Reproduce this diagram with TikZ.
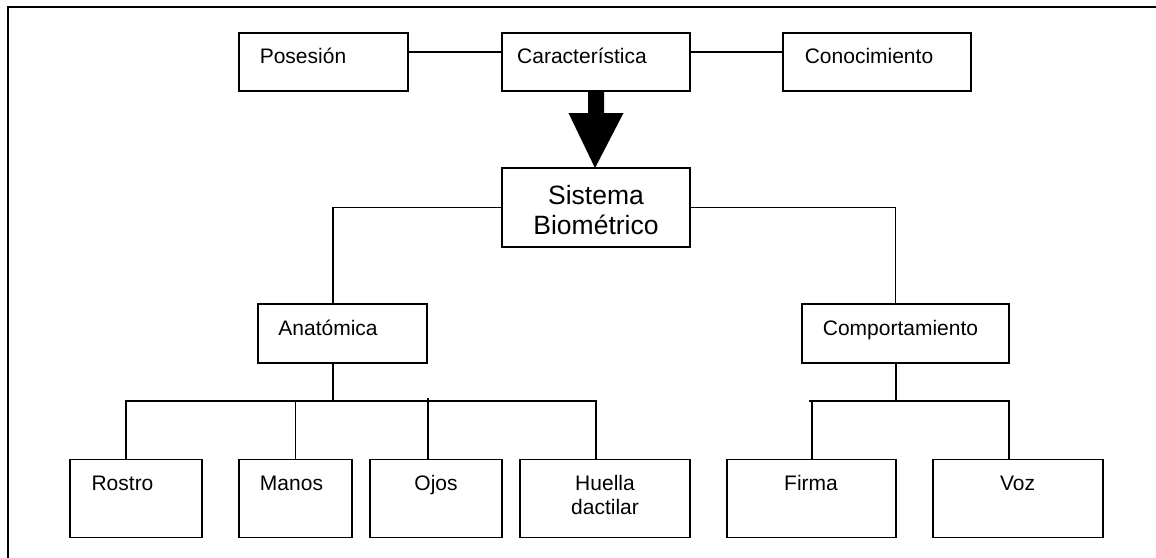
\documentclass[tikz,border=0pt]{standalone}
\usepackage{fontspec}
\setmainfont{Liberation Sans}
\begin{document}
\begin{tikzpicture}[x=1pt,y=-1pt,
  box/.style={draw,line width=1.9pt,inner sep=0pt,outer sep=0pt,minimum height=58pt},
  txt/.style={anchor=base,inner sep=0pt,font=\fontsize{21}{24}\selectfont},
  bigtxt/.style={anchor=base,inner sep=0pt,font=\fontsize{26.5}{30}\selectfont},
  conn/.style={line width=1.9pt},
  frame/.style={line width=2pt}]
\useasboundingbox (0,0) rectangle (1156,557);
% outer frame (top and left only)
\coordinate (fr1) at (1160,7);
\coordinate (fr2) at (8,7);
\coordinate (fr3) at (8,560);
\draw[frame] (fr1) -- (fr2) -- (fr3);
% boxes
\node[box,minimum width=169pt] (pos) at (323.5,62) {};
\node[box,minimum width=188pt] (car) at (596,62) {};
\node[box,minimum width=188pt] (con) at (877,62) {};
\node[box,minimum width=188pt,minimum height=79pt] (sis) at (596,207.5) {};
\node[box,minimum width=169pt,minimum height=59pt] (ana) at (342.5,333.5) {};
\node[box,minimum width=207pt,minimum height=59pt] (comp) at (905.5,333.5) {};
\node[box,minimum width=132pt,minimum height=78pt] (ros) at (136,498.5) {};
\node[box,minimum width=113pt,minimum height=78pt] (man) at (295.5,498.5) {};
\node[box,minimum width=132pt,minimum height=78pt] (ojo) at (436,498.5) {};
\node[box,minimum width=170pt,minimum height=78pt] (hue) at (605,498.5) {};
\node[box,minimum width=169pt,minimum height=78pt] (fir) at (811.5,498.5) {};
\node[box,minimum width=170pt,minimum height=78pt] (voz) at (1018,498.5) {};
% texts
\node[txt] (posT) at (303,63) {Posesión};
\node[txt] (carT) at (582,63) {Característica};
\node[txt] (conT) at (869,63) {Conocimiento};
\node[bigtxt,align=center] (sisT) at (596,234) {Sistema\\Biométrico};
\node[txt] (anaT) at (328,335.5) {Anatómica};
\node[txt] (compT) at (900.5,335.5) {Comportamiento};
\node[txt] (rosT) at (122.5,490.5) {Rostro};
\node[txt] (manT) at (291.5,490.5) {Manos};
\node[txt] (ojoT) at (436,490.5) {Ojos};
\node[txt,align=center] (hueT) at (605,514.5) {Huella\\dactilar};
\node[txt] (firT) at (811,490.5) {Firma};
\node[txt] (vozT) at (1017.5,490.5) {Voz};
% top row links
\draw[conn] ([yshift=10pt]pos.east) -- ([yshift=10pt]car.west);
\draw[conn] ([yshift=10pt]car.east) -- ([yshift=10pt]con.west);
% block arrow
\fill ([xshift=-8pt]car.south) -- ([xshift=-8pt,yshift=-22pt]car.south)
  -- ([xshift=-27.5pt,yshift=-22pt]car.south) -- ([xshift=-1pt]sis.north)
  -- ([xshift=27.5pt,yshift=-22pt]car.south) -- ([xshift=8pt,yshift=-22pt]car.south)
  -- ([xshift=8pt]car.south) -- cycle;
% Sistema branches
\draw[conn] (sis.west) -| ([xshift=-9.5pt]ana.north);
\draw[conn] (sis.east) -| ([xshift=-10pt]comp.north);
% Anatomica bus
\coordinate (abus) at (333,401);
\draw[conn] ([xshift=-9.5pt]ana.south) -- (abus);
\draw[conn] (abus) -| ([xshift=-10pt]ros.north);
\draw[conn] (abus) -| (man.north);
\draw[conn] (abus) -| ([xshift=-9pt]hue.north);
\draw[conn] ([xshift=-8pt]ojo.north) -- ([xshift=-8pt,yshift=62pt]ojo.north);
% Comportamiento bus
\coordinate (cbus) at (896,401);
\coordinate (cbusL) at (809,401);
\draw[conn] ([xshift=-9.5pt]comp.south) -- (cbus);
\draw[conn] (cbus) -- (cbusL);
\draw[conn] (cbus) -| ([xshift=-9pt]voz.north);
\draw[conn] ([xshift=0.5pt]fir.north) -- ([xshift=0.5pt,yshift=58pt]fir.north);
\end{tikzpicture}
\end{document}
